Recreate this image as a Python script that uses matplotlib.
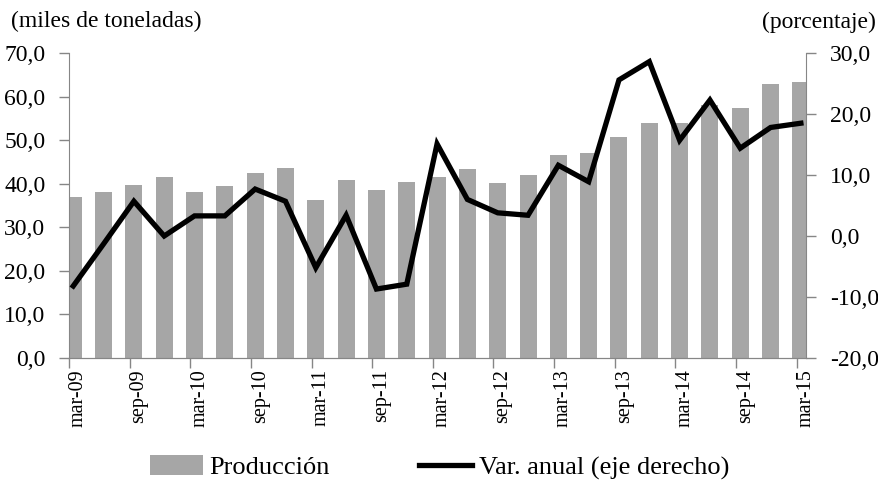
import numpy as np
import matplotlib
matplotlib.use('Agg')
import matplotlib.pyplot as plt
from matplotlib.ticker import FuncFormatter, FixedLocator

matplotlib.rcParams.update({'font.family': 'Liberation Serif', 'font.size': 17})

# quarterly data, mar-09 .. mar-15
quarters = ['mar-09', 'jun-09', 'sep-09', 'dic-09', 'mar-10', 'jun-10', 'sep-10', 'dic-10',
            'mar-11', 'jun-11', 'sep-11', 'dic-11', 'mar-12', 'jun-12', 'sep-12', 'dic-12',
            'mar-13', 'jun-13', 'sep-13', 'dic-13', 'mar-14', 'jun-14', 'sep-14', 'dic-14',
            'mar-15']
produccion = [36.9, 38.2, 39.6, 41.5, 38.2, 39.5, 42.4, 43.7,
              36.3, 40.9, 38.6, 40.5, 41.5, 43.3, 40.1, 41.9,
              46.5, 47.0, 50.7, 53.9, 53.9, 58.0, 57.3, 63.0,
              63.4]
var_anual = [-8.2, -1.3, 5.7, 0.0, 3.3, 3.3, 7.7, 5.7,
             -5.2, 3.4, -8.7, -7.9, 15.1, 6.0, 3.8, 3.4,
             11.6, 8.9, 25.6, 28.6, 15.7, 22.3, 14.4, 17.8,
             18.5]

x = np.arange(len(quarters))
spine_col = '#868686'
fmt = FuncFormatter(lambda v, p: ('%.1f' % v).replace('.', ','))

fig = plt.figure(figsize=(8.79, 4.87), dpi=100)
ax = fig.add_axes([0.0785, 0.265, 0.8385, 0.626])
ax2 = ax.twinx()

bars = ax.bar(x, produccion, width=0.56, color='#A6A6A6', label='Producción', zorder=2)
line, = ax2.plot(x, var_anual, color='black', lw=3.8, solid_joinstyle='miter',
                 label='Var. anual (eje derecho)', zorder=3)

ax.set_xlim(-0.14, len(x) - 1 + 0.14)
ax.set_ylim(0, 70)
ax.set_yticks(np.arange(0, 71, 10))
ax.yaxis.set_major_formatter(fmt)
ax2.set_ylim(-20, 30)
ax2.set_yticks(np.arange(-20, 31, 10))
ax2.yaxis.set_major_formatter(fmt)

# excel-style: tick marks (minor) sit a bit left of the labels (major, no mark)
ax.set_xticks(x[::2] + 0.17)
ax.set_xticklabels(quarters[::2], rotation=90, fontsize=14.5)
ax.xaxis.set_minor_locator(FixedLocator(x[::2] - 0.14))

for a in (ax, ax2):
    for s in a.spines.values():
        s.set_color(spine_col)
    a.spines['top'].set_visible(False)
    a.tick_params(which='both', direction='out', length=7, width=1, colors=spine_col,
                  labelcolor='black', pad=10)
ax.tick_params(axis='x', which='major', length=0, pad=8)
ax.tick_params(axis='y', which='minor', length=0)
ax2.spines['left'].set_visible(False)
ax.spines['right'].set_visible(False)

fig.text(0.013, 0.955, '(miles de toneladas)', ha='left', va='center')
fig.text(0.996, 0.955, '(porcentaje)', ha='right', va='center')

fig.legend([bars, line], ['Producción', 'Var. anual (eje derecho)'], loc='center',
           bbox_to_anchor=(0.5, 0.04), ncol=2, frameon=False, columnspacing=3.4,
           handlelength=2.0, handletextpad=0.25, handleheight=0.75, fontsize=19)

fig.savefig('out.png', dpi=100)
